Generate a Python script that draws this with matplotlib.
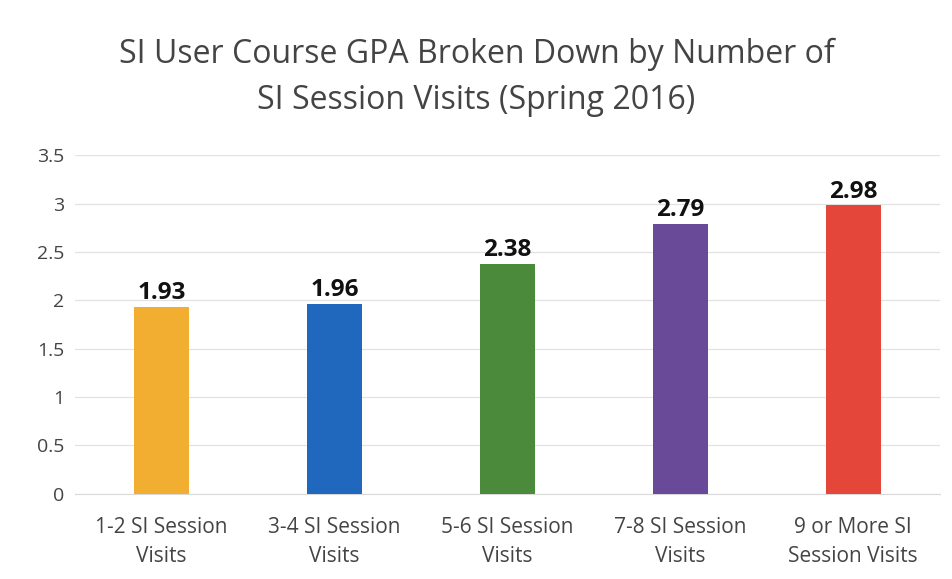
import matplotlib
matplotlib.use('Agg')
import matplotlib.pyplot as plt

categories = ['1-2 SI Session\nVisits', '3-4 SI Session\nVisits', '5-6 SI Session\nVisits',
              '7-8 SI Session\nVisits', '9 or More SI\nSession Visits']
gpa = [1.93, 1.96, 2.38, 2.79, 2.98]
colors = ['#F2AE30', '#2068BE', '#4A8A3A', '#684A98', '#E5463A']
yticks = [0, 0.5, 1, 1.5, 2, 2.5, 3, 3.5]

plt.rcParams['font.family'] = ['Open Sans', 'DejaVu Sans']

fig = plt.figure(figsize=(9.53, 5.79), dpi=100)
ax = fig.add_axes([0.079, 0.147, 0.907, 0.585])

x = range(len(categories))
bars = ax.bar(x, gpa, width=0.32, color=colors, zorder=3)

#Value labels on top of each bar
for xi, v in zip(x, gpa):
    ax.text(xi, v + 0.02, f'{v:.2f}', ha='center', va='bottom',
            fontsize=17.5, fontweight='bold', color='#111111')

ax.set_xlim(-0.5, 4.5)
ax.set_ylim(0, 3.5)
ax.set_yticks(yticks)
ax.set_yticklabels([f'{t:g}' for t in yticks])
ax.set_xticks(list(x))
ax.set_xticklabels(categories, linespacing=1.45)
ax.tick_params(axis='both', length=0, colors='#444444')
ax.tick_params(axis='x', pad=17, labelsize=15)
ax.tick_params(axis='y', pad=8, labelsize=14)

ax.grid(axis='y', color='#e2e2e2', linewidth=0.9, zorder=0)
for s in ['top', 'right', 'left']:
    ax.spines[s].set_visible(False)
ax.spines['bottom'].set_color('#d9d9d9')

fig.text(0.5, 0.866, 'SI User Course GPA Broken Down by Number of\nSI Session Visits (Spring 2016)',
         ha='center', va='center', fontsize=23, color='#444444', linespacing=1.5)

fig.savefig('out.png', dpi=100)
